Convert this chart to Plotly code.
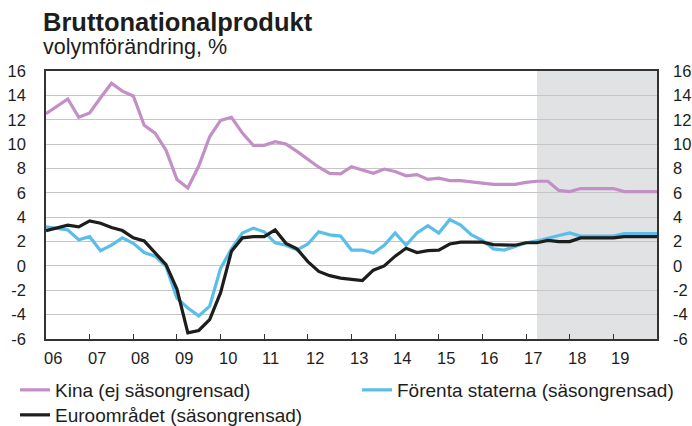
import plotly.graph_objects as go

quarters = [f"{y}Q{q}" for y in range(2006, 2020) for q in range(1, 5)] + ["2020Q1"]

kina = [12.5, 13.1, 13.7, 12.2, 12.55, 13.8, 15.0, 14.35, 13.95, 11.55, 10.9, 9.5, 7.1, 6.4, 8.2, 10.6,
        11.95, 12.2, 10.9, 9.9, 9.9, 10.2, 10.0, 9.4, 8.75, 8.1, 7.6, 7.55, 8.15, 7.9, 7.6, 7.95,
        7.75, 7.4, 7.5, 7.1, 7.2, 7.0, 7.0, 6.9, 6.8, 6.7, 6.7, 6.7, 6.85, 6.95, 6.95, 6.2,
        6.1, 6.35, 6.35, 6.35, 6.35, 6.1, 6.1, 6.1, 6.1]
usa = [3.2, 3.1, 2.95, 2.15, 2.4, 1.25, 1.7, 2.3, 1.85, 1.1, 0.8, -0.05, -2.65, -3.45, -4.1, -3.3,
       -0.2, 1.4, 2.7, 3.1, 2.8, 1.9, 1.7, 1.3, 1.8, 2.8, 2.55, 2.45, 1.3, 1.3, 1.05, 1.7,
       2.7, 1.7, 2.7, 3.3, 2.7, 3.8, 3.35, 2.55, 2.1, 1.4, 1.3, 1.6, 1.9, 2.05, 2.3, 2.5,
       2.7, 2.45, 2.45, 2.45, 2.45, 2.65, 2.65, 2.65, 2.65]
euro = [2.9, 3.15, 3.35, 3.2, 3.7, 3.5, 3.15, 2.9, 2.3, 2.05, 1.1, 0.1, -1.9, -5.5, -5.3, -4.4,
        -2.2, 1.2, 2.3, 2.4, 2.4, 2.95, 1.85, 1.4, 0.35, -0.45, -0.8, -1.0, -1.1, -1.2, -0.35, 0.0,
        0.8, 1.45, 1.1, 1.25, 1.3, 1.8, 1.95, 1.95, 1.95, 1.75, 1.7, 1.7, 1.9, 1.9, 2.1, 2.0,
        2.0, 2.3, 2.3, 2.3, 2.3, 2.4, 2.4, 2.4, 2.4]
year_labels = ["06", "07", "08", "09", "10", "11", "12", "13", "14", "15", "16", "17", "18", "19"]
y_ticks = [-6, -4, -2, 0, 2, 4, 6, 8, 10, 12, 14, 16]
forecast_start = "2017Q2"

def qpos(q):
    return int(q[:4]) + (int(q[-1]) - 1) * 0.25

x = [qpos(q) for q in quarters]
years = list(range(2006, 2020))
y_text = [str(v) for v in y_ticks]

font = "Liberation Sans, Arial, sans-serif"
ink = "#1d1d1b"
fig = go.Figure()
fig.add_trace(go.Scatter(x=x, y=kina, mode="lines", name="Kina (ej säsongrensad)",
                         line=dict(color="#c28fc6", width=3.2), legend="legend"))
fig.add_trace(go.Scatter(x=x, y=usa, mode="lines", name="Förenta staterna (säsongrensad)",
                         line=dict(color="#5bbde9", width=3.2), legend="legend2"))
fig.add_trace(go.Scatter(x=x, y=euro, mode="lines", name="Euroområdet (säsongrensad)",
                         line=dict(color=ink, width=3.2), legend="legend3"))
fig.add_trace(go.Scatter(x=[x[0]], y=[kina[0]], yaxis="y2", mode="lines", showlegend=False,
                         hoverinfo="skip", line=dict(width=0), opacity=0))

fig.add_shape(type="rect", xref="x", yref="paper", x0=qpos(forecast_start), x1=x[-1], y0=0, y1=1,
              fillcolor="#e1e2e4", line=dict(width=0), layer="below")

for yr, lab in zip(years, year_labels):
    fig.add_annotation(x=yr, y=0, xref="x", yref="paper", yshift=-8, text=lab, showarrow=False,
                       xanchor="left", yanchor="top", xshift=-4,
                       font=dict(family=font, size=16.5, color=ink))

fig.add_annotation(x=0, y=1, xref="paper", yref="paper", xanchor="left", yanchor="bottom",
                   text="<b>Bruttonationalprodukt</b>", showarrow=False, xshift=-5, yshift=33,
                   font=dict(family=font, size=25.5, color=ink))
fig.add_annotation(x=0, y=1, xref="paper", yref="paper", xanchor="left", yanchor="bottom",
                   text="volymförändring, %", showarrow=False, xshift=-5, yshift=10,
                   font=dict(family=font, size=21.5, color=ink))

legfont = dict(family=font, size=19, color=ink)
leg_common = dict(orientation="v", xanchor="left", yanchor="top", font=legfont,
                  bgcolor="rgba(0,0,0,0)", tracegroupgap=0)
fig.update_layout(
    width=692, height=426,
    margin=dict(l=46, r=35, t=71, b=87, autoexpand=False),
    plot_bgcolor="white", paper_bgcolor="white",
    font=dict(family=font, size=16.5, color=ink),
    xaxis=dict(range=[x[0], x[-1]], tickvals=years[1:], ticks="inside", ticklen=5,
               tickcolor="#333", showticklabels=False, showgrid=False, automargin=False,
               showline=True, linecolor="#333", linewidth=1.5, mirror=True, zeroline=False),
    yaxis=dict(range=[-6, 16], tickvals=y_ticks, ticktext=y_text, showgrid=True,
               gridcolor="#c6c6c6", gridwidth=1,
               zeroline=False, showline=True, linecolor="#333", linewidth=1.5, mirror=True,
               ticks="", ticklabelstandoff=15, automargin=False),
    yaxis2=dict(range=[-6, 16], tickvals=y_ticks, ticktext=y_text, overlaying="y", side="right",
                showgrid=False, zeroline=False, ticks="", ticklabelstandoff=15, showline=False,
                automargin=False),
    legend=dict(x=-0.0507, y=-0.1194, **leg_common),
    legend2=dict(x=0.509, y=-0.1194, **leg_common),
    legend3=dict(x=-0.0507, y=-0.2127, **leg_common),
    showlegend=True,
)

fig.write_html("out.html", config={"displayModeBar": False},
               post_script="document.body.style.margin='0';")
